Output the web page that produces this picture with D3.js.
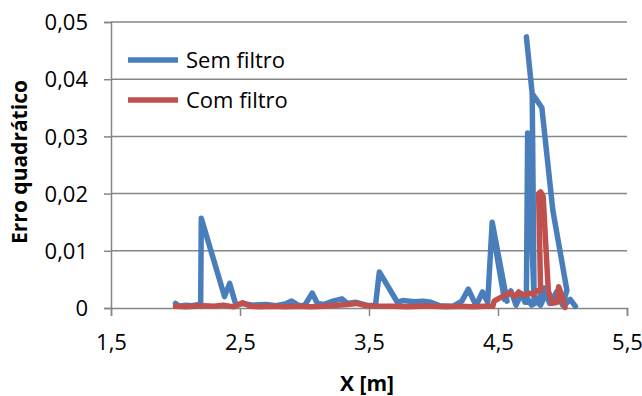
<!DOCTYPE html>
<html>
<head>
<meta charset="utf-8">
<script src="https://cdn.jsdelivr.net/npm/d3@7/dist/d3.min.js"></script>
<style>
  html, body { margin: 0; padding: 0; background: #fff; }
  svg { display: block; font-family: "Open Sans", "Liberation Sans", sans-serif; }
</style>
</head>
<body>
<svg id="chart" width="642" height="396"></svg>
<script>
// ---- data ----
const seriesNames = ["Sem filtro", "Com filtro"];
const xTicks = [1.5, 2.5, 3.5, 4.5, 5.5];
const yTicks = [0, 0.01, 0.02, 0.03, 0.04, 0.05];

const semX = [2.00, 2.03, 2.08, 2.13, 2.18, 2.195, 2.20, 2.38, 2.42, 2.47, 2.52, 2.60, 2.70, 2.78, 2.85, 2.90, 2.95, 3.00, 3.06, 3.10, 3.15, 3.22, 3.29, 3.33, 3.40, 3.48, 3.55, 3.58, 3.72, 3.76, 3.85, 3.92, 3.98, 4.05, 4.15, 4.22, 4.27, 4.33, 4.38, 4.42, 4.455, 4.57, 4.47, 4.55, 4.60, 4.64, 4.68, 4.71, 4.78, 4.765, 4.72, 4.765, 4.84, 4.925, 5.034, 5.00, 4.96, 4.90, 4.86, 4.80, 4.76, 4.72, 4.73, 4.78, 4.83, 4.88, 4.93, 4.98, 5.03, 5.06, 5.10];
const semY = [0.0008, 0.0003, 0.0005, 0.0004, 0.0006, 0.0003, 0.0157, 0.0020, 0.0043, 0.0004, 0.0008, 0.0005, 0.0006, 0.0004, 0.0007, 0.0012, 0.0005, 0.0004, 0.0026, 0.0008, 0.0006, 0.0012, 0.0016, 0.0008, 0.0010, 0.0005, 0.0004, 0.0063, 0.0010, 0.0013, 0.0011, 0.0012, 0.0010, 0.0004, 0.0003, 0.0012, 0.0033, 0.0004, 0.0028, 0.0010, 0.0150, 0.0012, 0.0120, 0.0015, 0.0030, 0.0005, 0.0025, 0.0010, 0.0010, 0.0375, 0.0474, 0.0375, 0.0350, 0.0171, 0.0031, 0.0005, 0.0030, 0.0008, 0.0035, 0.0010, 0.0005, 0.0020, 0.0306, 0.0015, 0.0005, 0.0030, 0.0010, 0.0025, 0.0008, 0.0015, 0.0003];

const comX = [2.00, 2.08, 2.15, 2.22, 2.30, 2.37, 2.45, 2.52, 2.58, 2.66, 2.75, 2.85, 2.95, 3.05, 3.15, 3.25, 3.33, 3.40, 3.48, 3.58, 3.70, 3.80, 3.90, 4.00, 4.10, 4.20, 4.30, 4.40, 4.46, 4.47, 4.50, 4.55, 4.59, 4.63, 4.66, 4.70, 4.74, 4.78, 4.80, 4.83, 4.815, 4.83, 4.85, 4.89, 4.92, 4.96, 4.97, 4.99, 5.02];
const comY = [0.0003, 0.0002, 0.0003, 0.0004, 0.0003, 0.0005, 0.0002, 0.0009, 0.0003, 0.0002, 0.0003, 0.0002, 0.0003, 0.0002, 0.0003, 0.0005, 0.0006, 0.0008, 0.0004, 0.0003, 0.0003, 0.0002, 0.0003, 0.0003, 0.0002, 0.0003, 0.0002, 0.0003, 0.0003, 0.0012, 0.0016, 0.0022, 0.0027, 0.0020, 0.0028, 0.0022, 0.0026, 0.0024, 0.0030, 0.0030, 0.0200, 0.0203, 0.0195, 0.0030, 0.0008, 0.0010, 0.0037, 0.0025, 0.0001];

// ---- layout ----
const svg = d3.select("#chart");
const mLeft = 111, mRight = 627, mTop = 22, mBottom = 308;
const x = d3.scaleLinear().domain([1.5, 5.5]).range([mLeft, mRight]);
const y = d3.scaleLinear().domain([0, 0.05]).range([mBottom, mTop]);
const gridColor = "#868686";
const fmt = d => d3.format(d === 0 ? "d" : ".2f")(d).replace(".", ",");
const fmtX = d => d3.format(".1f")(d).replace(".", ",");

// gridlines
svg.append("g").selectAll("line").data(yTicks.filter(d => d > 0)).join("line")
  .attr("x1", mLeft).attr("x2", mRight)
  .attr("y1", d => y(d)).attr("y2", d => y(d))
  .attr("stroke", gridColor).attr("stroke-width", 1.5);

// y axis
const yAxis = svg.append("g").attr("transform", `translate(${mLeft},0)`)
  .call(d3.axisLeft(y).tickValues(yTicks).tickFormat(fmt).tickSize(7).tickPadding(16));
yAxis.select(".domain").attr("stroke", gridColor).attr("stroke-width", 1.5);
yAxis.selectAll(".tick line").attr("stroke", gridColor).attr("stroke-width", 1.5);
yAxis.selectAll(".tick text").attr("font-size", 22).attr("fill", "#000")
  .attr("font-family", "'Open Sans', sans-serif").attr("dy", "0.35em");

// x axis
const xAxis = svg.append("g").attr("transform", `translate(0,${mBottom})`)
  .call(d3.axisBottom(x).tickValues(xTicks).tickFormat(fmtX).tickSize(8).tickPadding(18));
xAxis.select(".domain").attr("stroke", gridColor).attr("stroke-width", 1.5);
xAxis.selectAll(".tick line").attr("stroke", gridColor).attr("stroke-width", 1.5);
xAxis.selectAll(".tick text").attr("font-size", 22).attr("fill", "#000")
  .attr("font-family", "'Open Sans', sans-serif");

// lines
const blueColor = "#4a7ebb", redColor = "#c0504d";
const line = d3.line().x(d => x(d[0])).y(d => y(d[1]));
const semData = semX.map((v, i) => [v, semY[i]]);
const comData = comX.map((v, i) => [v, comY[i]]);
svg.append("path").datum(semData).attr("d", line)
  .attr("fill", "none").attr("stroke", blueColor).attr("stroke-width", 5.5)
  .attr("stroke-linejoin", "round").attr("stroke-linecap", "round");
svg.append("path").datum(comData).attr("d", line)
  .attr("fill", "none").attr("stroke", redColor).attr("stroke-width", 5.5)
  .attr("stroke-linejoin", "round").attr("stroke-linecap", "round");

// legend
const legend = svg.append("g");
[[seriesNames[0], blueColor, 60], [seriesNames[1], redColor, 100]].forEach(([name, c, ly]) => {
  legend.append("line").attr("x1", 128).attr("x2", 178).attr("y1", ly).attr("y2", ly)
    .attr("stroke", c).attr("stroke-width", 5.5);
  legend.append("text").attr("x", 186).attr("y", ly).attr("dy", "0.35em")
    .attr("font-size", 22).text(name);
});

// axis titles
svg.append("text").attr("x", 367).attr("y", 391).attr("text-anchor", "middle")
  .attr("font-size", 21).attr("font-weight", "bold").text("X [m]");
svg.append("text").attr("transform", "translate(27,162) rotate(-90)")
  .attr("text-anchor", "middle").attr("font-size", 21).attr("font-weight", "bold")
  .text("Erro quadrático");
</script>
</body>
</html>
